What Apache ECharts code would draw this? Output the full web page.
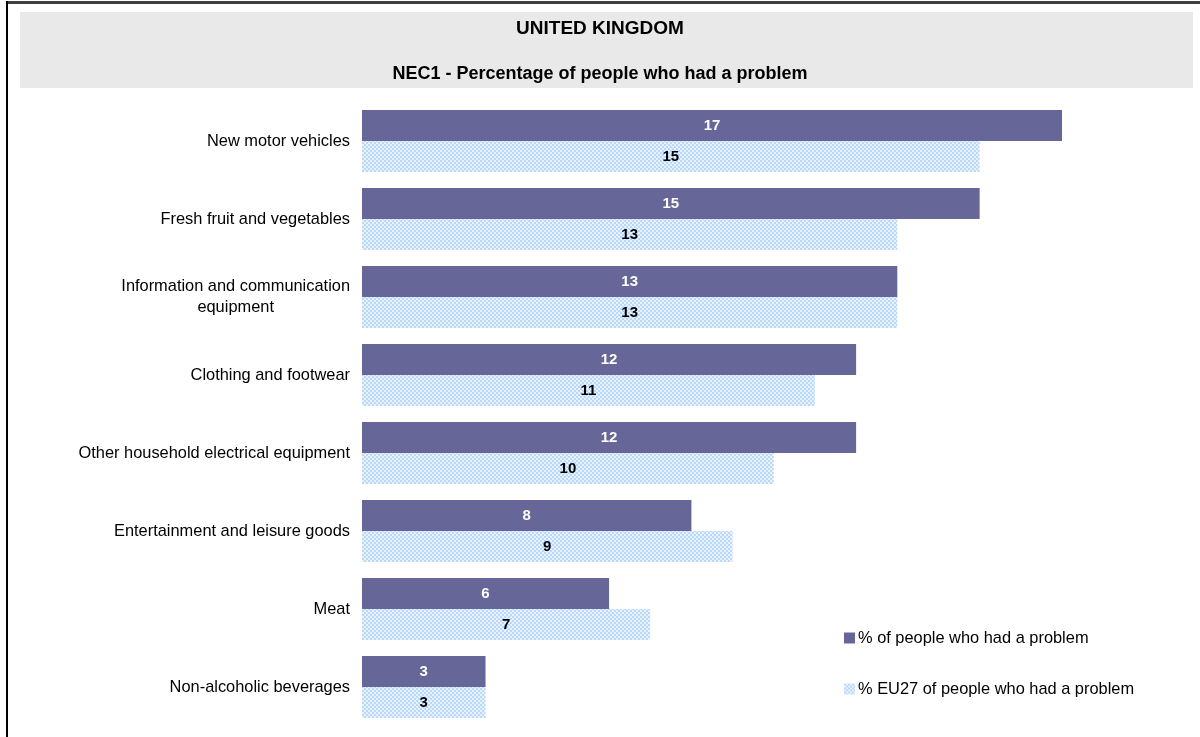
<!DOCTYPE html>
<html>
<head>
<meta charset="utf-8">
<script src="https://cdn.jsdelivr.net/npm/echarts@6/dist/echarts.min.js"></script>
<style>
  html, body { margin: 0; padding: 0; background: #ffffff; }
  #chart { width: 1200px; height: 737px; }
</style>
</head>
<body>
<div id="chart"></div>
<script>
// Product categories, top to bottom
const categories = [
  'New motor vehicles',
  'Fresh fruit and vegetables',
  'Information and communication\nequipment',
  'Clothing and footwear',
  'Other household electrical equipment',
  'Entertainment and leisure goods',
  'Meat',
  'Non-alcoholic beverages'
];
const seriesNames = ['% of people who had a problem', '% EU27 of people who had a problem'];
const ukValues = [17, 15, 13, 12, 12, 8, 6, 3];
const eu27Values = [15, 13, 13, 11, 10, 9, 7, 3];

// Dotted light-blue fill for the EU27 bars
function dotPattern() {
  const c = document.createElement('canvas');
  c.width = 4; c.height = 4;
  const g = c.getContext('2d');
  g.fillStyle = '#e8f2fd';
  g.fillRect(0, 0, 4, 4);
  g.fillStyle = '#bad8f8';
  g.fillRect(0, 0, 2, 2);
  g.fillRect(2, 2, 2, 2);
  return c;
}
const eu27Fill = { image: dotPattern(), repeat: 'repeat' };

const chart = echarts.init(document.getElementById('chart'), null, { renderer: 'canvas' });
const font = 'Arial, "Liberation Sans", sans-serif';

chart.setOption({
  animation: false,
  textStyle: { fontFamily: font },
  graphic: [
    { type: 'rect', z: -10, shape: { x: 20, y: 12, width: 1173, height: 76 }, style: { fill: '#e9e9e9' } },
    { type: 'rect', z: 10, shape: { x: 6, y: 1, width: 1194, height: 3 }, style: { fill: '#404040' } },
    { type: 'rect', z: 10, shape: { x: 6, y: 1, width: 2, height: 736 }, style: { fill: '#000000' } }
  ],
  title: [
    { text: 'UNITED KINGDOM', left: 'center', top: 14,
      textStyle: { fontFamily: font, fontSize: 19, fontWeight: 'bold', color: '#000' } },
    { text: 'NEC1 - Percentage of people who had a problem', left: 'center', top: 60,
      textStyle: { fontFamily: font, fontSize: 18, fontWeight: 'bold', color: '#000' } }
  ],
  legend: {
    orient: 'vertical',
    left: 839,
    top: 625,
    itemWidth: 11,
    itemHeight: 11,
    itemGap: 35,
    icon: 'rect',
    textStyle: { fontFamily: font, fontSize: 16.4, color: '#000', padding: [0, 0, 0, -2] },
    data: seriesNames
  },
  grid: { left: 362, top: 102, width: 700, height: 624 },
  xAxis: {
    type: 'value', min: 0, max: 17,
    show: false
  },
  yAxis: {
    type: 'category',
    inverse: true,
    data: categories,
    axisLine: { show: false },
    axisTick: { show: false },
    axisLabel: {
      margin: 12,
      fontFamily: font,
      fontSize: 16.4,
      color: '#000',
      lineHeight: 21,
      formatter: function (v) {
        return v.split('\n').map(function (s) { return '{c|' + s + '}'; }).join('\n');
      },
      rich: { c: { align: 'center', fontFamily: font, fontSize: 16.4, color: '#000', lineHeight: 21 } }
    }
  },
  series: [
    {
      name: seriesNames[0],
      type: 'bar',
      data: ukValues,
      barGap: '0%',
      barCategoryGap: '20.5%',
      itemStyle: { color: '#666699' },
      label: { show: true, position: 'inside', color: '#ffffff', fontWeight: 'bold', fontSize: 15, fontFamily: font }
    },
    {
      name: seriesNames[1],
      type: 'bar',
      data: eu27Values,
      barGap: '0%',
      barCategoryGap: '20.5%',
      itemStyle: { color: eu27Fill },
      label: { show: true, position: 'inside', color: '#000000', fontWeight: 'bold', fontSize: 15, fontFamily: font }
    }
  ]
});
</script>
</body>
</html>
